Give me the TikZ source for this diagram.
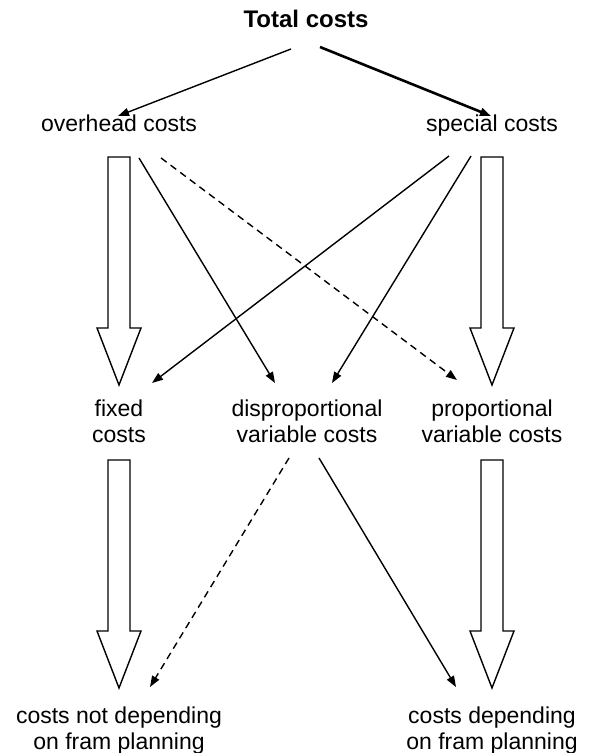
\documentclass[tikz,border=0pt]{standalone}
\usepackage{fontspec}
\setmainfont{Liberation Sans}
\usetikzlibrary{arrows.meta}

% big hollow arrow from a top point down to a tip
\newcommand{\hollowarrow}[2]{%
    \draw[hollow] ([xshift=-11pt]#1) -- ([xshift=-11pt,yshift=57pt]#2) -- ([xshift=-22pt,yshift=57pt]#2) -- (#2)
        -- ([xshift=22pt,yshift=57pt]#2) -- ([xshift=11pt,yshift=57pt]#2) -- ([xshift=11pt]#1) -- cycle;}

\begin{document}
\begin{tikzpicture}[x=1pt, y=1pt, >={Triangle[length=11pt, width=8pt]},
    lbl/.style={inner sep=0pt, align=center, font=\fontsize{23}{26}\selectfont},
    hollow/.style={line width=1.4pt, line join=miter},
    link/.style={->, line width=1.4pt},
    dlink/.style={->, line width=1.4pt, dash pattern=on 7pt off 5pt}]
    \useasboundingbox (0,0) rectangle (589,753);

    \node[lbl, anchor=base, font=\fontsize{24}{28}\selectfont\bfseries] (total) at (306,725) {Total costs};
    \node[lbl, anchor=base] (overhead) at (119,621) {overhead costs};
    \node[lbl, anchor=base] (special) at (492,621) {special costs};

    \node[lbl, anchor=north] (fixed) at (119,353.5) {fixed\\costs};
    \node[lbl, anchor=north] (disprop) at (307,353.5) {disproportional\\variable costs};
    \node[lbl, anchor=north] (prop) at (492,353.5) {proportional\\variable costs};

    \node[lbl, anchor=north] (notdep) at (119,46.5) {costs not depending\\on fram planning};
    \node[lbl, anchor=north] (dep) at (492,46.5) {costs depending\\on fram planning};

    \draw[link] ([xshift=-15pt, yshift=-21pt]total.base) -- ([xshift=-1pt, yshift=16pt]overhead.base);
    \draw[->, line width=2.6pt] ([xshift=14pt, yshift=-19pt]total.base) -- ([xshift=-1pt, yshift=16pt]special.base);

    \coordinate (ohtop) at ([yshift=-25pt]overhead.base);
    \coordinate (sptop) at ([yshift=-25pt]special.base);
    \coordinate (fxtip) at ([yshift=14.5pt]fixed.north);
    \coordinate (prtip) at ([yshift=14.5pt]prop.north);
    \coordinate (fxbot) at ([yshift=-60.5pt]fixed.north);
    \coordinate (prbot) at ([yshift=-60.5pt]prop.north);
    \coordinate (ndtip) at ([yshift=18.5pt]notdep.north);
    \coordinate (dptip) at ([yshift=18.5pt]dep.north);

    \hollowarrow{ohtop}{fxtip}
    \hollowarrow{sptop}{prtip}
    \hollowarrow{fxbot}{ndtip}
    \hollowarrow{prbot}{dptip}

    \draw[link] ([xshift=20pt, yshift=-26pt]overhead.base) -- ([xshift=-32pt, yshift=16.5pt]disprop.north);
    \draw[dlink] ([xshift=42pt, yshift=-26pt]overhead.base) -- ([xshift=-35pt, yshift=19.5pt]prop.north);
    \draw[link] ([xshift=-43pt, yshift=-24pt]special.base) -- ([xshift=33pt, yshift=16.5pt]fixed.north);
    \draw[link] ([xshift=-21pt, yshift=-24pt]special.base) -- ([xshift=25pt, yshift=16.5pt]disprop.north);

    \draw[dlink] ([xshift=-18pt, yshift=-58.5pt]disprop.north) -- ([xshift=31pt, yshift=19.5pt]notdep.north);
    \draw[link] ([xshift=12pt, yshift=-58.5pt]disprop.north) -- ([xshift=-36pt, yshift=19.5pt]dep.north);
\end{tikzpicture}
\end{document}
